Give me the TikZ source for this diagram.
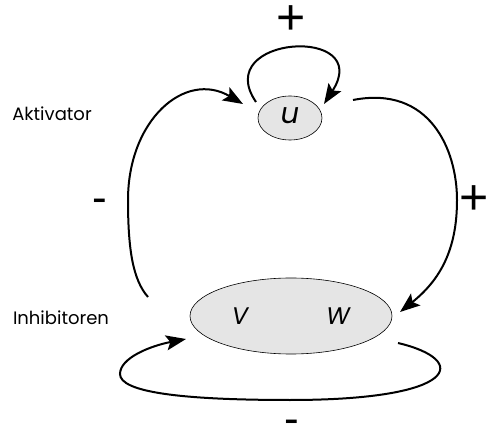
\documentclass[tikz,border=0pt]{standalone}
\usepackage{fontspec}
\setmainfont{Poppins}
\newfontfamily\signfont{Liberation Sans}
\usetikzlibrary{arrows.meta,shapes.geometric}
\newcommand\plussign{\raisebox{0pt}[0.59em][-0.12em]{+}}
\newcommand\minussign{\raisebox{0pt}[0.32em][-0.22em]{-}}
\begin{document}
\begin{tikzpicture}[x=1pt,y=-1pt,
  state/.style={draw=black, line width=0.6pt, fill=black!10, ellipse, inner sep=0pt},
  conn/.style={line width=2pt, -{Stealth[length=20pt,width=15pt,inset=4pt]}},
  lbl/.style={font=\fontsize{18}{20}\selectfont},
  plus/.style={font=\signfont\fontsize{50}{52}\selectfont, inner sep=0pt},
  minus/.style={font=\signfont\fontsize{44}{46}\selectfont, inner sep=0pt},
  var/.style={font=\fontsize{24}{26}\selectfont\itshape}]
\useasboundingbox (0,0) rectangle (487,427);
\node[state, minimum width=64pt, minimum height=44pt] (u) at (290,118) {};
\node[var, font=\fontsize{29}{30}\selectfont\itshape] (ulbl) at (290,116) {u};
\node[state, minimum width=202pt, minimum height=76pt] (vw) at (291,316) {};
\node[var] (v) at (240,316) {V};
\node[var] (w) at (338,316) {W};
\node[lbl] (akt) at (52,114) {Aktivator};
\node[lbl] (inh) at (61,318) {Inhibitoren};
\node[plus] (ptop) at (291,20) {\plussign};
\node[plus] (pright) at (474,200) {\plussign};
\node[minus] (mleft) at (100,205) {\minussign};
\node[minus] (mbot) at (292,426) {\minussign};
\coordinate (s1) at (256,102);
\coordinate (e1) at (324,104);
\coordinate (s2) at (148,297);
\coordinate (e2) at (243,104);
\coordinate (s3) at (353,100);
\coordinate (e3) at (400,312);
\coordinate (s4) at (398,343);
\coordinate (e4) at (186,339);
\draw[conn] (s1) .. controls (210,35) and (375,25) .. (e1);
\draw[conn] (s2) .. controls (133,280) and (128,250) .. (128,200) .. controls (128,120) and (185,70) .. (e2);
\draw[conn] (s3) .. controls (430,85) and (457,150) .. (457,200) .. controls (457,250) and (440,280) .. (e3);
\draw[conn] (s4) .. controls (470,360) and (460,400) .. (290,400) .. controls (180,400) and (120,392) .. (120,374) .. controls (120,358) and (150,346) .. (e4);
\end{tikzpicture}
\end{document}
